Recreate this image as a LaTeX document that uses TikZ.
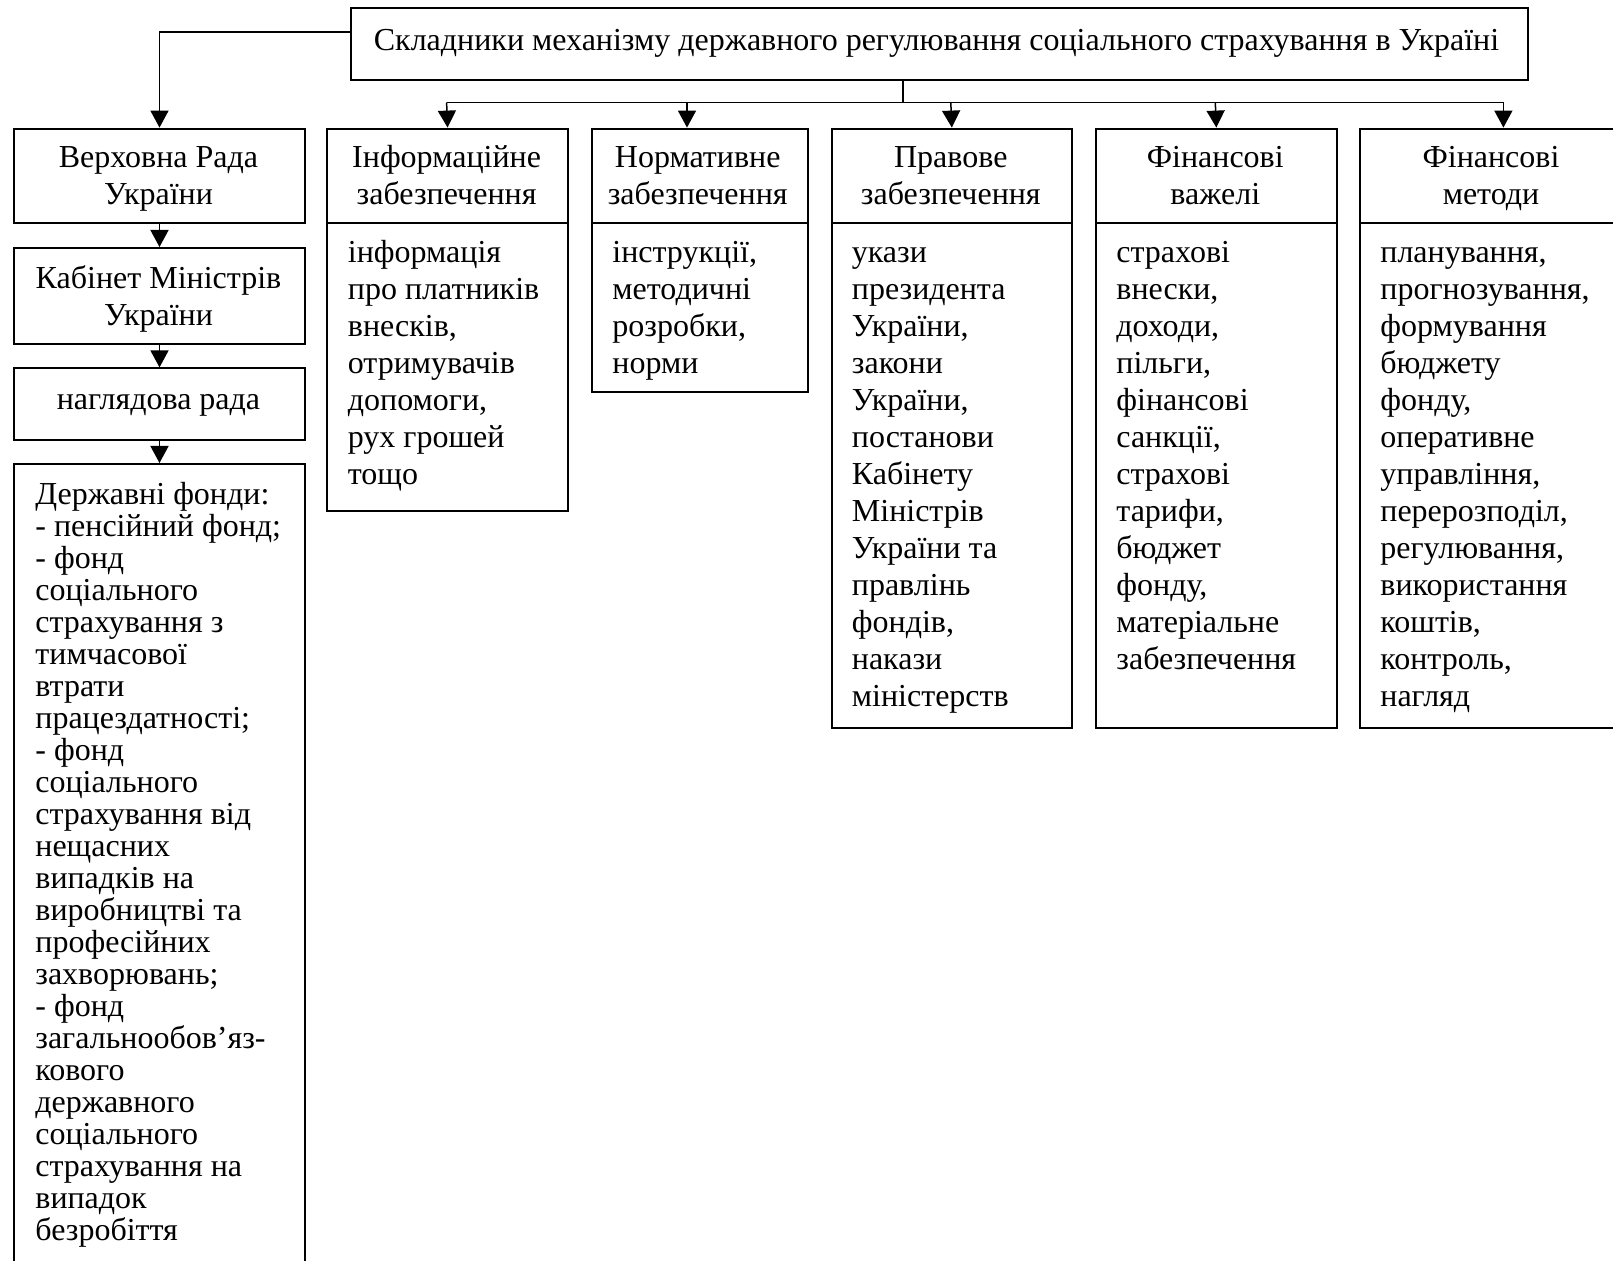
\documentclass[tikz,border=0pt]{standalone}
\usepackage{fontspec}
\setmainfont{Liberation Serif}
\usetikzlibrary{arrows.meta}
\newcommand\bodyfs{\fontsize{16pt}{18.5pt}\selectfont}
\newcommand\listfs{\fontsize{16pt}{16pt}\selectfont}
\newcommand\st{\rule{0pt}{13pt}}
\begin{document}
\begin{tikzpicture}[x=0.5pt,y=-0.5pt,
  bx/.style={draw, line width=1pt, inner sep=0pt, anchor=north west, rectangle},
  tc/.style={inner sep=0pt, anchor=north, align=center, font=\bodyfs},
  tl/.style={inner sep=0pt, anchor=north west, align=left, font=\bodyfs},
  arr/.style={line width=0.75pt, -{Triangle[length=8.5pt,width=9pt]}},
  ln/.style={line width=0.75pt}]
\useasboundingbox (0,0) rectangle (1613,1261);
% title
\node[bx, minimum width=588.5pt, minimum height=36pt] (T) at (350,7.2) {};
\node[tc] (Tt) at (936.5,24) {\st Складники механізму державного регулювання соціального страхування в Україні};
% left column
\node[bx, minimum width=145.1pt, minimum height=47.35pt] (V) at (13.4,127.6) {};
\node[tc] (Vt) at (158.5,141.5) {\st Верховна Рада\\України};
\node[bx, minimum width=145.1pt, minimum height=47.85pt] (K) at (13.4,247) {};
\node[tc] (Kt) at (158.5,262) {\st Кабінет Міністрів\\України};
\node[bx, minimum width=145.1pt, minimum height=36pt] (N) at (13.4,367.4) {};
\node[tc] (Nt) at (158.5,383) {\st наглядова рада};
\node[bx, minimum width=145.1pt, minimum height=450pt] (D) at (13.4,463) {};
\node[tl, font=\listfs] (Dt) at (35,478) {\st Державні фонди:\\- пенсійний фонд;\\- фонд\\соціального\\страхування з\\тимчасової\\втрати\\працездатності;\\- фонд\\соціального\\страхування від\\нещасних\\випадків на\\виробництві та\\професійних\\захворювань;\\- фонд\\загальнообов’яз-\\кового\\державного\\соціального\\страхування на\\випадок\\безробіття};
% info
\node[bx, minimum width=120.4pt, minimum height=47.35pt] (IH) at (326.2,127.6) {};
\node[tc] (IHt) at (446.6,141.5) {\st Інформаційне\\забезпечення};
\node[bx, minimum width=120.4pt, minimum height=144.05pt] (IB) at (326.2,222.3) {};
\node[tl] (IBt) at (347.5,236) {\st інформація\\про платників\\внесків,\\отримувачів\\допомоги,\\рух грошей\\тощо};
% norm
\node[bx, minimum width=108.05pt, minimum height=47.35pt] (NH) at (590.7,127.6) {};
\node[tc] (NHt) at (697.7,141.5) {\st Нормативне\\забезпечення};
\node[bx, minimum width=108.05pt, minimum height=84.35pt] (NB) at (590.7,222.3) {};
\node[tl] (NBt) at (612,236) {\st інструкції,\\методичні\\розробки,\\норми};
% legal
\node[bx, minimum width=120.35pt, minimum height=47.35pt] (PH) at (830.5,127.6) {};
\node[tc] (PHt) at (950.8,141.5) {\st Правове\\забезпечення};
\node[bx, minimum width=120.35pt, minimum height=252.4pt] (PB) at (830.5,222.3) {};
\node[tl] (PBt) at (851.5,236) {\st укази\\президента\\України,\\закони\\України,\\постанови\\Кабінету\\Міністрів\\України та\\правлінь\\фондів,\\накази\\міністерств};
% levers
\node[bx, minimum width=120.35pt, minimum height=47.35pt] (FH) at (1095,127.6) {};
\node[tc] (FHt) at (1215.3,141.5) {\st Фінансові\\важелі};
\node[bx, minimum width=120.35pt, minimum height=252.4pt] (FB) at (1095,222.3) {};
\node[tl] (FBt) at (1116,236) {\st страхові\\внески,\\доходи,\\пільги,\\фінансові\\санкції,\\страхові\\тарифи,\\бюджет\\фонду,\\матеріальне\\забезпечення};
% methods
\node[bx, minimum width=131.8pt, minimum height=47.35pt] (MH) at (1359.4,127.6) {};
\node[tc] (MHt) at (1491,141.5) {\st Фінансові\\методи};
\node[bx, minimum width=131.8pt, minimum height=252.4pt] (MB) at (1359.4,222.3) {};
\node[tl] (MBt) at (1380,236) {\st планування,\\прогнозування,\\формування\\бюджету\\фонду,\\оперативне\\управління,\\перерозподіл,\\регулювання,\\використання\\коштів,\\контроль,\\нагляд};
% connectors
\coordinate (tl) at (350,31.9);
\draw[arr] (tl) -| (V.north);
\draw[arr] (V.south) -- (K.north);
\draw[arr] (K.south) -- (N.north);
\draw[arr] (N.south) -- (D.north);
\coordinate (bus) at (903,102.5);
\coordinate (bI) at (446.6,102.5);
\coordinate (bN) at (687,102.5);
\coordinate (bP) at (950.8,102.5);
\coordinate (bF) at (1215.3,102.5);
\coordinate (bM) at (1503.4,102.5);
\draw[ln] (T.south -| bus) -- (bus);
\draw[ln] (bI) -- (bM);
\draw[arr] (bI) -- (IH.north);
\draw[arr] (bN) -- (bN |- NH.north);
\draw[arr] (bP) -- (PH.north);
\draw[arr] (bF) -- (FH.north);
\draw[arr] (bM) -- (bM |- MH.north);
\end{tikzpicture}
\end{document}
